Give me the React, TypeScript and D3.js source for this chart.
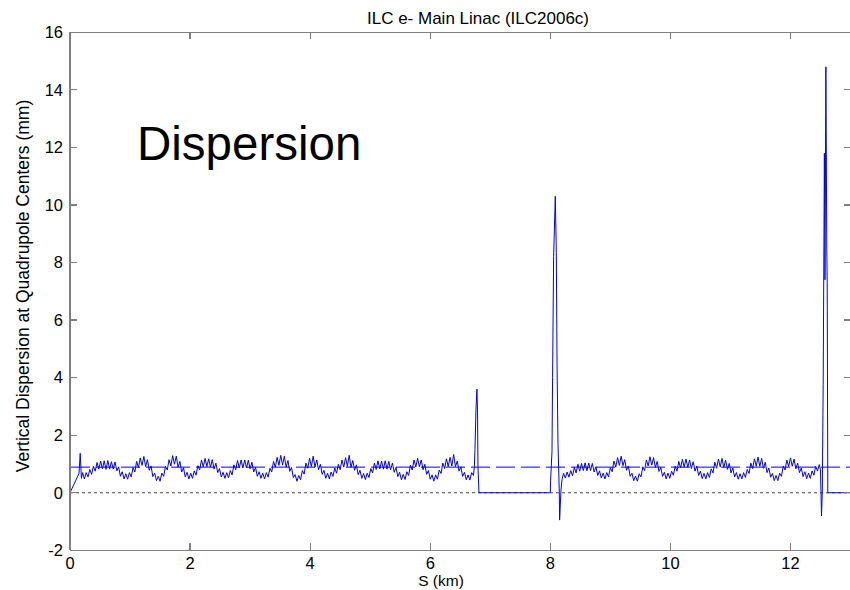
import React from "react";
import * as d3 from "d3";

// ---------- data ----------
const xTicks = [0, 2, 4, 6, 8, 10, 12];
const yTicks = [-2, 0, 2, 4, 6, 8, 10, 12, 14, 16];
const titleText = "ILC e- Main Linac (ILC2006c)";
const xLabel = "S (km)";
const yLabel = "Vertical Dispersion at Quadrupole Centers (mm)";
const annotation = "Dispersion";
const meanLevel = 0.89; // dashed reference level (mm)
const quadStep = 0.03; // km between successive quadrupoles

// start of linac
const rampS = [0, 0.15, 0.17, 0.19];
const rampV = [0, 0.67, 1.37, 0.5];

// first linac sector (quad-by-quad dispersion, mm)
const sector1Start = 0.21;
const sector1 = [
  0.70, 0.48, 0.70, 0.55, 0.81, 0.64, 0.92, 0.75, 1.05, 0.82,
  1.10, 0.83, 1.11, 0.81, 1.12, 0.82, 1.08, 0.82, 1.07, 0.76,
  0.90, 0.57, 0.73, 0.48, 0.66, 0.47, 0.70, 0.55, 0.87, 0.72,
  1.09, 0.87, 1.21, 0.95, 1.26, 0.91, 1.15, 0.78, 0.93, 0.56,
  0.68, 0.42, 0.57, 0.40, 0.68, 0.57, 0.92, 0.79, 1.15, 0.93,
  1.29, 0.99, 1.27, 0.88, 1.09, 0.72, 0.87, 0.55, 0.71, 0.48,
  0.68, 0.50, 0.76, 0.61, 0.94, 0.79, 1.14, 0.90, 1.19, 0.91,
  1.18, 0.89, 1.15, 0.82, 1.03, 0.70, 0.84, 0.55, 0.71, 0.50,
  0.70, 0.52, 0.77, 0.62, 0.97, 0.80, 1.12, 0.86, 1.14, 0.86,
  1.14, 0.86, 1.13, 0.83, 1.06, 0.72, 0.88, 0.57, 0.73, 0.50,
  0.68, 0.48, 0.70, 0.54, 0.85, 0.72, 1.09, 0.89, 1.23, 0.95,
  1.30, 0.96, 1.27, 0.89, 1.12, 0.74, 0.88, 0.53, 0.63, 0.40,
  0.60, 0.45, 0.77, 0.65, 1.03, 0.85, 1.20, 0.91, 1.27, 0.89,
  1.14, 0.80, 0.99, 0.64, 0.78, 0.50, 0.68, 0.48, 0.72, 0.57,
  0.86, 0.68, 0.99, 0.80, 1.14, 0.89, 1.22, 0.91, 1.30, 0.88,
  1.12, 0.78, 0.97, 0.63, 0.78, 0.50, 0.67, 0.46, 0.68, 0.53,
  0.84, 0.69, 1.03, 0.81, 1.11, 0.83, 1.10, 0.82, 1.11, 0.82,
  1.09, 0.80, 1.03, 0.71, 0.88, 0.56, 0.71, 0.45, 0.64, 0.46,
  0.73, 0.60, 0.96, 0.79, 1.14, 0.90, 1.20, 0.90, 1.14, 0.80,
  0.99, 0.64, 0.77, 0.47, 0.62, 0.40, 0.62, 0.47, 0.79, 0.67,
  1.03, 0.84, 1.18, 0.91, 1.23, 0.93, 1.33, 0.91, 1.10, 0.75,
  0.90, 0.57, 0.71, 0.45, 0.62, 0.44, 0.70, 0.60,
];

// first dogleg / bend region
const bend1S = [6.735, 6.745, 6.762, 6.778, 6.788, 6.795, 6.812, 8.0, 8.005, 8.028, 8.038, 8.055, 8.083, 8.1, 8.112, 8.128, 8.15, 8.155, 8.178, 8.195];
const bend1V = [0.9, 1.5, 2.9, 3.6, 2.8, 0.9, 0, 0, 0.44, 1.43, 4.0, 8.2, 10.3, 8.35, 4.5, 1.7, 0, -0.95, 0.1, 0.45];

// second linac sector
const sector2Start = 8.22;
const sector2 = [
  0.68, 0.51, 0.72, 0.54, 0.77, 0.59, 0.88, 0.69, 0.99, 0.75,
  1.02, 0.77, 1.04, 0.76, 1.03, 0.77, 1.02, 0.72, 0.90, 0.60,
  0.76, 0.51, 0.68, 0.48, 0.70, 0.55, 0.87, 0.73, 1.10, 0.89,
  1.22, 0.95, 1.27, 0.94, 1.15, 0.78, 0.93, 0.57, 0.68, 0.42,
  0.58, 0.40, 0.66, 0.55, 0.90, 0.77, 1.14, 0.93, 1.25, 0.96,
  1.22, 0.88, 1.09, 0.74, 0.88, 0.57, 0.71, 0.48, 0.68, 0.50,
  0.75, 0.61, 0.92, 0.75, 1.09, 0.86, 1.16, 0.89, 1.17, 0.88,
  1.14, 0.84, 1.08, 0.75, 0.93, 0.60, 0.75, 0.49, 0.67, 0.48,
  0.70, 0.53, 0.83, 0.69, 1.06, 0.85, 1.17, 0.90, 1.19, 0.88,
  1.13, 0.81, 1.02, 0.69, 0.86, 0.55, 0.70, 0.47, 0.66, 0.48,
  0.70, 0.53, 0.81, 0.67, 1.03, 0.84, 1.18, 0.92, 1.24, 0.92,
  1.19, 0.85, 1.06, 0.70, 0.86, 0.54, 0.67, 0.42, 0.60, 0.42,
  0.68, 0.57, 0.92, 0.79, 1.14, 0.91, 1.21, 0.92, 1.17, 0.83,
  1.03, 0.70, 0.86, 0.56, 0.73, 0.49, 0.68, 0.50, 0.76, 0.61,
  0.92, 0.75, 0.98,
];

// end of linac (beam delivery transition)
const bend2S = [12.5, 12.517, 12.53, 12.545, 12.565, 12.575, 12.59, 12.605, 12.612, 12.622, 13];
const bend2V = [0.8, -0.8, 0, 3.75, 11.8, 7.4, 14.8, 8.5, 7.3, 0, 0];

// ---------- layout ----------
const W = 850;
const H = 590;
const left = 70;
const right = 850.5;
const top = 32.3;
const bottom = 550.3;

const axisColor = "#7f7f7f";
const font = "'Liberation Sans', Arial, Helvetica, sans-serif";

export default function App() {
  const x = d3.scaleLinear().domain([0, 13]).range([left, right]);
  const y = d3.scaleLinear().domain([-2, 16]).range([bottom, top]);

  const pts: [number, number][] = [
    ...rampS.map((s, i) => [s, rampV[i]] as [number, number]),
    ...sector1.map((v, i) => [sector1Start + i * quadStep, v] as [number, number]),
    ...bend1S.map((s, i) => [s, bend1V[i]] as [number, number]),
    ...sector2.map((v, i) => [sector2Start + i * quadStep, v] as [number, number]),
    ...bend2S.map((s, i) => [s, bend2V[i]] as [number, number]),
  ];

  const line = d3
    .line<[number, number]>()
    .x((d) => x(d[0]))
    .y((d) => y(d[1]));

  const tickLen = 7;

  return (
    <div style={{ position: "absolute", left: 0, top: 0, width: W, height: H, background: "#fff" }}>
      <svg width={W} height={H} style={{ display: "block" }}>
        <defs>
          <clipPath id="plot">
            <rect x={left} y={top} width={right - left} height={bottom - top} />
          </clipPath>
        </defs>
        <rect x={0} y={0} width={W} height={H} fill="#fff" />

        <g clipPath="url(#plot)">
          {/* zero reference (dotted) */}
          <line
            x1={x(0)}
            x2={x(13)}
            y1={y(0)}
            y2={y(0)}
            stroke="#444"
            strokeWidth={1}
            strokeDasharray="3 3"
          />
          {/* mean level (dashed) */}
          <line
            x1={x(0)}
            x2={x(13)}
            y1={y(meanLevel)}
            y2={y(meanLevel)}
            stroke="#0000ff"
            strokeWidth={1}
            strokeDasharray="19 6"
            strokeDashoffset={24}
          />
          <path d={line(pts) || ""} fill="none" stroke="#0000ff" strokeWidth={1} strokeLinejoin="miter" />
        </g>

        {/* axes frame */}
        <g stroke={axisColor} strokeWidth={1.2} fill="none" shapeRendering="crispEdges">
          <line x1={left} x2={right} y1={top} y2={top} />
          <line x1={left} x2={right} y1={bottom} y2={bottom} />
          <line x1={left} x2={left} y1={top} y2={bottom} />
          <line x1={right} x2={right} y1={top} y2={bottom} />
          {xTicks.map((t) => (
            <g key={"xt" + t}>
              <line x1={x(t)} x2={x(t)} y1={bottom} y2={bottom - tickLen} />
              <line x1={x(t)} x2={x(t)} y1={top} y2={top + tickLen} />
            </g>
          ))}
          {yTicks.map((t) => (
            <g key={"yt" + t}>
              <line x1={left} x2={left + tickLen} y1={y(t)} y2={y(t)} />
              <line x1={right} x2={right - tickLen} y1={y(t)} y2={y(t)} />
            </g>
          ))}
        </g>

        {/* tick labels */}
        <g fontFamily={font} fontSize={16.5} fill="#000">
          {xTicks.map((t) => (
            <text key={"xl" + t} x={x(t)} y={bottom + 18.5} textAnchor="middle">
              {t}
            </text>
          ))}
          {yTicks.map((t) => (
            <text key={"yl" + t} x={left - 7} y={y(t) + 5.8} textAnchor="end">
              {t}
            </text>
          ))}
        </g>

        {/* title and labels */}
        <text x={478} y={24} textAnchor="middle" fontFamily={font} fontSize={17} fill="#000">
          {titleText}
        </text>
        <text x={441} y={586} textAnchor="middle" fontFamily={font} fontSize={15.5} fill="#000">
          {xLabel}
        </text>
        <text
          transform={`translate(29, 286) rotate(-90)`}
          textAnchor="middle"
          fontFamily={font}
          fontSize={17.5}
          fill="#000"
        >
          {yLabel}
        </text>
        <text x={137} y={160} fontFamily={font} fontSize={47.5} fill="#000">
          {annotation}
        </text>
      </svg>
    </div>
  );
}
